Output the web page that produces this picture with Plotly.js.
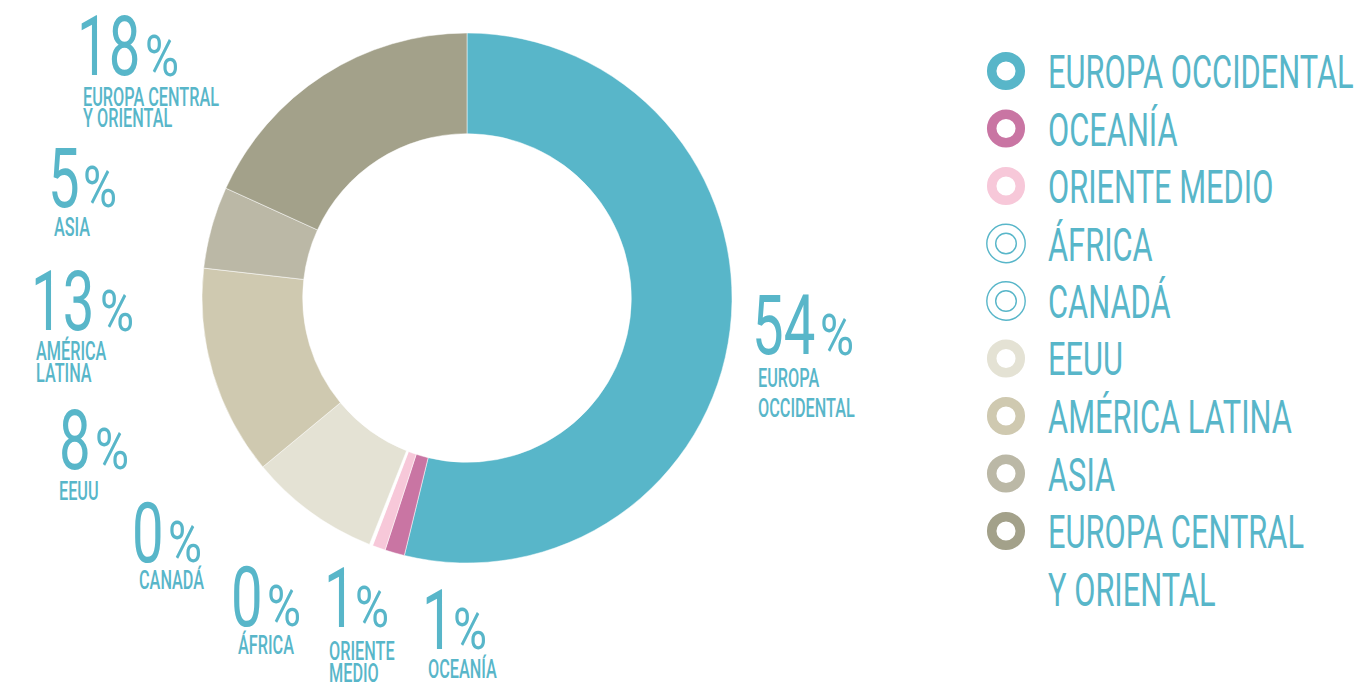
<!DOCTYPE html>
<html>
<head>
<meta charset="utf-8">
<script src="https://cdn.plot.ly/plotly-3.0.1.min.js"></script>
<style>
html,body{margin:0;padding:0;background:#fff;}
#chart{width:1361px;height:683px;}
.annotation-text{transform-box:fill-box;transform-origin:0% 50%;}
</style>
</head>
<body>
<div id="chart"></div>
<script>
// ---- data ----
const regions = ['EUROPA OCCIDENTAL','OCEANÍA','ORIENTE MEDIO','ÁFRICA','CANADÁ','EEUU','AMÉRICA LATINA','ASIA','EUROPA CENTRAL Y ORIENTAL'];
const shares = [53.8, 1.2, 0.8, 0.1, 0.1, 8.0, 12.8, 5.0, 18.2];
const pctLabels = ['54','1','1','0','0','8','13','5','18'];
const labelLines = [['EUROPA','OCCIDENTAL'],['OCEANÍA'],['ORIENTE','MEDIO'],['ÁFRICA'],['CANADÁ'],['EEUU'],['AMÉRICA','LATINA'],['ASIA'],['EUROPA CENTRAL','Y ORIENTAL']];
const legendLines = [['EUROPA OCCIDENTAL'],['OCEANÍA'],['ORIENTE MEDIO'],['ÁFRICA'],['CANADÁ'],['EEUU'],['AMÉRICA LATINA'],['ASIA'],['EUROPA CENTRAL','Y ORIENTAL']];
const sliceColors = ['#58b6c9','#c975a3','#f7c8d9','#ffffff','#ffffff','#e4e2d4','#cfc9b0','#bbb8a6','#a3a18a'];
const legendColors = ['#58b6c9','#c975a3','#f7c8d9','#58b6c9','#58b6c9','#e4e2d4','#cfc9b0','#bbb8a6','#a3a18a'];
const legendStyle = ['ring','ring','ring','double','double','ring','ring','ring','ring'];

// ---- layout helpers ----
const W = 1361, H = 683;
const px = x => x / W;
const py = y => 1 - y / H;
const TEAL = '#58b6c9';
const FONT = 'Roboto, "Open Sans", sans-serif';

// label positions: nx = number left, ny = digit center, sx = percent-sign left,
// cx = caption left, cy = caption first-line center, step = caption line step
const labelPos = [
  {nx:750, ny:326, sx:820, cx:756, cy:378, step:30},
  {nx:420, ny:620, sx:453, cx:426, cy:669, step:22},
  {nx:322, ny:598, sx:355, cx:327, cy:651, step:22},
  {nx:229, ny:597, sx:267, cx:236, cy:645, step:22},
  {nx:130, ny:533, sx:168, cx:137, cy:580, step:22},
  {nx:57,  ny:440, sx:95,  cx:57,  cy:491, step:22},
  {nx:29,  ny:302, sx:100, cx:34,  cy:351, step:22},
  {nx:46,  ny:178, sx:83,  cx:52,  cy:227, step:22},
  {nx:75,  ny:47,  sx:145, cx:81,  cy:97,  step:22}
];

const annotations = [];
const scaleX = [];
const shapes = [];

pctLabels.forEach((p, i) => {
  const lp = labelPos[i];
  annotations.push({
    xref:'paper', yref:'paper', x:px(lp.nx), y:py(lp.ny), xanchor:'left', yanchor:'middle',
    text: p, showarrow:false, font:{family:FONT, size:84, color:TEAL, weight:400}
  });
  scaleX.push(0.67);
  annotations.push({
    xref:'paper', yref:'paper', x:px(lp.sx - 2), y:py(lp.ny + 9), xanchor:'left', yanchor:'middle',
    text: '%', showarrow:false, font:{family:FONT, size:58, color:TEAL, weight:400}
  });
  scaleX.push(0.8);
  labelLines[i].forEach((t, j) => {
    annotations.push({
      xref:'paper', yref:'paper', x:px(lp.cx), y:py(lp.cy + j*lp.step), xanchor:'left', yanchor:'middle',
      text:t, showarrow:false, font:{family:FONT, size:25, color:TEAL, weight:500}
    });
    scaleX.push(0.65);
  });
});

// legend
legendLines.forEach((lines, i) => {
  const cy = 71 + 57.5*i;
  const cx = 1006;
  if (legendStyle[i] === 'ring') {
    const r = 14.3;
    shapes.push({type:'circle', xref:'paper', yref:'paper', x0:px(cx-r), x1:px(cx+r), y0:py(cy+r), y1:py(cy-r),
      line:{color:legendColors[i], width:9.5}, fillcolor:'rgba(0,0,0,0)'});
  } else {
    [19.2, 10.3].forEach(r => {
      shapes.push({type:'circle', xref:'paper', yref:'paper', x0:px(cx-r), x1:px(cx+r), y0:py(cy+r), y1:py(cy-r),
        line:{color:legendColors[i], width:1.4}, fillcolor:'rgba(0,0,0,0)'});
    });
  }
  lines.forEach((t, j) => {
    annotations.push({
      xref:'paper', yref:'paper', x:px(1046), y:py(cy + 1 + j*57.5), xanchor:'left', yanchor:'middle',
      text:t, showarrow:false, font:{family:FONT, size:46, color:TEAL, weight:400}
    });
    scaleX.push(0.67);
  });
});

const cxP = 467, cyP = 298, R = 265;
const data = [{
  type:'pie',
  values: shares,
  labels: regions,
  sort:false,
  direction:'clockwise',
  rotation:0,
  hole:0.62,
  textinfo:'none',
  hoverinfo:'none',
  marker:{colors:sliceColors, line:{color:'#ffffff', width:0.5}},
  domain:{x:[px(cxP-R), px(cxP+R)], y:[py(cyP+R), py(cyP-R)]},
  showlegend:false
}];

const layout = {
  width:W, height:H,
  margin:{l:0,r:0,t:0,b:0},
  paper_bgcolor:'#ffffff',
  showlegend:false,
  annotations, shapes
};

Plotly.newPlot('chart', data, layout, {staticPlot:true, displayModeBar:false}).then(gd => {
  gd.querySelectorAll('g.annotation').forEach(g => {
    const idx = +g.getAttribute('data-index');
    const t = g.querySelector('text.annotation-text');
    if (t && scaleX[idx]) t.style.transform = 'scaleX(' + scaleX[idx] + ')';
  });
});
</script>
</body>
</html>
